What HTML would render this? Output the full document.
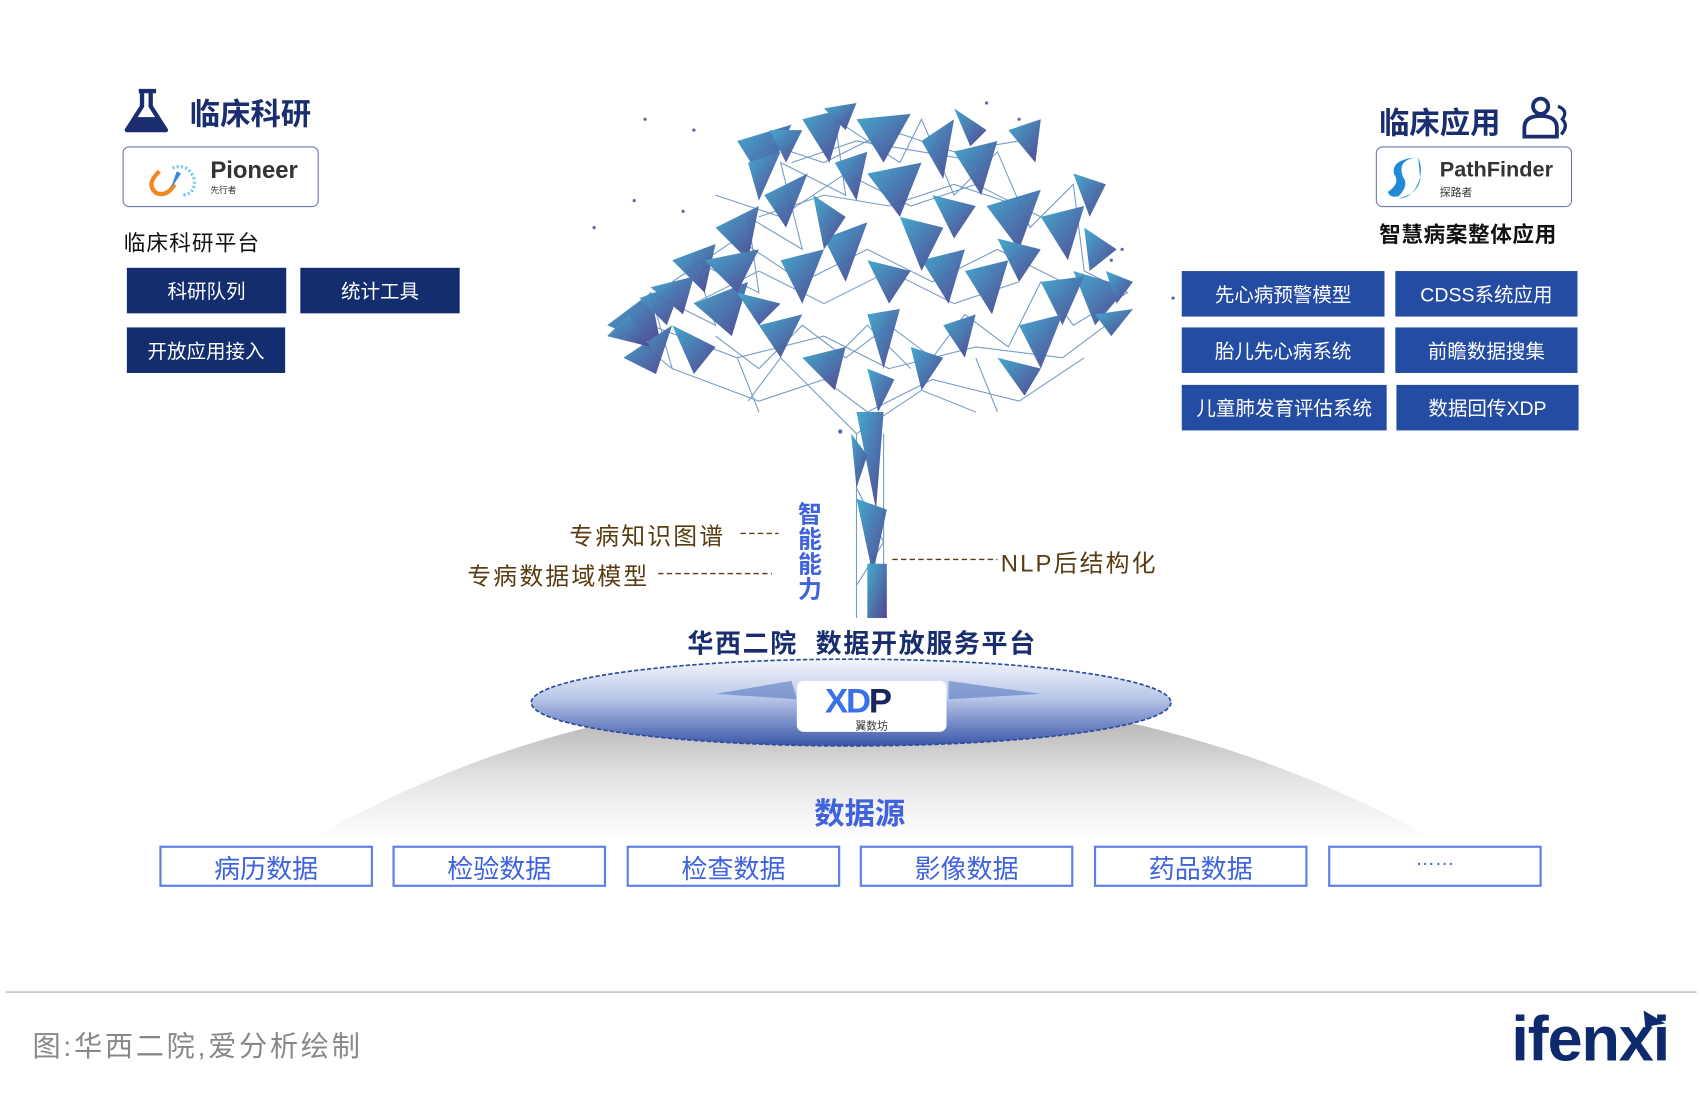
<!DOCTYPE html>
<html><head><meta charset="utf-8"><style>
html,body{margin:0;padding:0;background:#fff;width:1700px;height:1105px;overflow:hidden}
#w{position:absolute;left:0;top:0;width:1568px;height:1020px;transform:scale(1.08418);transform-origin:0 0;font-family:"Liberation Sans","Noto Sans CJK SC",sans-serif}
.a{position:absolute;white-space:nowrap}
.nb{position:absolute;background:#142d6e;color:#fff;font-size:18px;display:flex;align-items:center;justify-content:center}
.rb{position:absolute;background:#244ca3;color:#fff;font-size:18px;display:flex;align-items:center;justify-content:center}
.ds{position:absolute;top:780px;width:193px;height:34px;border:2px solid #5d7fe8;color:#3f63dc;font-size:24px;display:flex;align-items:center;justify-content:center}
.logo{position:absolute;border:1.5px solid #6a7aa8;border-radius:6px;background:#fff}
.br{color:#5a3c12;font-size:22px;letter-spacing:2px}
</style></head><body><div id="w">

<svg class="a" style="left:0;top:0" width="1568" height="1020">
<defs>
<linearGradient id="dome" x1="0" y1="0" x2="0" y2="1"><stop offset="0" stop-color="#a6a2a2"/><stop offset="0.6" stop-color="#e6e6e6"/><stop offset="1" stop-color="#fff"/></linearGradient>
<linearGradient id="disk" x1="0" y1="0" x2="0" y2="1"><stop offset="0" stop-color="#f4f6fb"/><stop offset="0.45" stop-color="#b8c6e8"/><stop offset="1" stop-color="#3a56a8"/></linearGradient>
<linearGradient id="tg" x1="0" y1="0" x2="1" y2="1"><stop offset="0" stop-color="#3ba6cc"/><stop offset="1" stop-color="#4b3d8c"/></linearGradient>
</defs>
<path d="M285,775 Q520,640 800,640 Q1080,640 1325,775 Z" fill="url(#dome)"/>
<ellipse cx="785" cy="648" rx="295" ry="40" fill="url(#disk)" stroke="#2a4a9c" stroke-width="1.5" stroke-dasharray="4,2"/>
<g stroke="#4a7ab0" stroke-width="1" fill="none" opacity="0.75">
<path d="M600,300 L680,330 L760,310 L820,340 L900,320 L980,330 L1020,300 M620,340 L700,370 L760,350 L800,380 L860,350 L940,370 L1000,330 M690,370 L720,330 L790,400 L850,360 L900,380 M640,280 L700,250 L760,280 L820,250 L880,280 L940,260 M700,200 L760,180 L820,190 L880,170 L940,190 M730,150 L790,130 L850,140 L910,150 M790,400 L790,570 M815,400 L815,570 M790,450 L815,500 L790,540"/>
<path d="M570,300 L620,340 L600,270 L660,300 L640,240 L700,270 L690,200 L740,230 L720,150 L780,180 L770,110 L830,150 L850,110 L880,180 L920,140 L950,210 L990,170 L1000,250 L1040,270 L990,300 L960,260 L930,320 L890,290 L860,330 L820,300 L780,330 L740,300 L700,340 L660,310"/>
<path d="M620,260 L680,220 L740,260 L800,230 L860,260 L920,230 L980,260 M660,180 L720,200 L780,160 L840,190 L900,170 L960,200 M700,130 L760,150 L820,120 L880,140 L940,130 M760,340 L800,300 L840,340 M680,330 L700,380 M900,330 L920,380"/>
</g>
<g fill="url(#tg)" opacity="0.95">
<polygon points="560,300 600,270 610,320"/><polygon points="575,330 620,300 605,345"/><polygon points="600,265 640,255 630,290"/>
<polygon points="620,240 660,225 650,270"/><polygon points="640,280 690,260 675,310"/><polygon points="660,210 700,190 690,240"/>
<polygon points="680,130 730,115 705,170"/><polygon points="705,180 745,160 725,210"/><polygon points="740,110 780,100 765,150"/>
<polygon points="790,110 840,105 815,150"/><polygon points="800,160 850,150 830,200"/><polygon points="850,130 880,110 870,165"/>
<polygon points="880,140 920,130 905,180"/><polygon points="910,190 960,175 940,230"/><polygon points="930,120 960,110 955,150"/>
<polygon points="960,200 1000,190 985,240"/><polygon points="990,250 1040,265 1010,300"/><polygon points="960,260 1000,255 980,300"/>
<polygon points="940,300 980,290 960,340"/><polygon points="890,250 930,240 915,290"/><polygon points="850,240 890,230 875,280"/>
<polygon points="830,200 870,210 850,250"/><polygon points="760,220 800,205 780,260"/><polygon points="720,240 760,230 740,280"/>
<polygon points="700,300 740,290 720,330"/><polygon points="650,240 700,230 680,270"/><polygon points="590,275 630,260 615,300"/>
<polygon points="990,160 1020,170 1005,200"/><polygon points="1010,290 1045,285 1025,310"/><polygon points="770,150 800,140 790,185"/>
<polygon points="870,300 900,290 890,330"/><polygon points="800,290 830,285 815,340"/><polygon points="790,380 815,380 808,470"/>
<polygon points="790,460 818,470 805,530"/><polygon points="800,520 818,520 818,570 800,570"/><polygon points="710,120 740,120 725,150"/>
<polygon points="690,150 720,140 700,185"/><polygon points="750,180 780,200 760,230"/><polygon points="860,180 900,190 880,220"/>
<polygon points="920,220 960,230 940,260"/><polygon points="1000,210 1030,230 1005,250"/><polygon points="580,290 560,310 600,320"/>
<polygon points="620,300 660,320 640,345"/><polygon points="740,330 780,320 770,360"/><polygon points="840,320 870,330 850,360"/>
<polygon points="920,330 960,340 945,365"/><polygon points="800,240 840,250 820,280"/><polygon points="680,270 720,280 700,300"/>
<polygon points="880,100 910,120 895,135"/><polygon points="760,100 790,95 780,120"/><polygon points="1020,250 1045,260 1030,280"/>
<polygon points="800,340 825,350 810,380"/><polygon points="785,400 800,420 790,450"/>
</g>
<g fill="#5a6aa8">
<circle cx="595" cy="110" r="1.5"/><circle cx="640" cy="120" r="1.5"/><circle cx="585" cy="185" r="1.5"/><circle cx="548" cy="210" r="1.5"/><circle cx="630" cy="195" r="1.5"/><circle cx="1035" cy="230" r="1.5"/><circle cx="1025" cy="240" r="1.5"/><circle cx="910" cy="95" r="1.5"/><circle cx="940" cy="110" r="1.5"/><circle cx="1082" cy="275" r="1.5"/><circle cx="775" cy="398" r="2"/>
</g>
<polygon points="660,640 730,628 735,645" fill="#5a7ac0" opacity="0.6"/><polygon points="875,628 960,640 875,645" fill="#5a7ac0" opacity="0.6"/>
<path d="M128,84 H144 M131,84 V98 L117,120 H153 L139,98 V84" stroke="#1a2d6e" stroke-width="4" fill="none" stroke-linejoin="round"/>
<path d="M123,108 H147 L153,120 H117 Z" fill="#1a2d6e"/>
<circle cx="1421" cy="98" r="7" stroke="#1a2d6e" stroke-width="3.5" fill="none"/>
<path d="M1406,126 V118 Q1406,107 1421,107 Q1436,107 1436,118 V126 Z" stroke="#1a2d6e" stroke-width="3.5" fill="none"/>
<path d="M1437,98 Q1447,102 1441,110 Q1447,116 1440,124" stroke="#1a2d6e" stroke-width="3" fill="none"/>
<line x1="5" y1="915" x2="1565" y2="915" stroke="#c8c8c8" stroke-width="1.5"/>
<g stroke="#5a3c12" stroke-width="1.3" stroke-dasharray="5,3">
<line x1="683" y1="492" x2="718" y2="492"/><line x1="607" y1="529" x2="712" y2="529"/><line x1="823" y1="516" x2="920" y2="516"/>
</g>
</svg>

<div class="a" style="left:175px;top:84px;font-size:28px;font-weight:bold;color:#1a2d6e">临床科研</div>
<div class="logo" style="left:113px;top:135px;width:179px;height:54px">
<svg width="60" height="50" style="position:absolute;left:15px;top:4px"><path d="M18,18 Q5,30 15,38 Q25,42 32,30" stroke="#f08a20" stroke-width="4" fill="none"/><path d="M30,15 Q45,10 50,25 Q52,38 40,40" stroke="#7ac8ee" stroke-width="3" stroke-dasharray="2,2" fill="none"/><path d="M28,35 L34,18 L38,20 Z" fill="#3a8ad8"/></svg>
<div class="a" style="left:80px;top:8px;font-size:22px;font-weight:bold;color:#333">Pioneer</div>
<div class="a" style="left:80px;top:34px;font-size:8px;color:#333">先行者</div></div>
<div class="a" style="left:114px;top:208px;font-size:20px;color:#111;letter-spacing:1px">临床科研平台</div>
<div class="nb" style="left:117px;top:247px;width:147px;height:42px">科研队列</div>
<div class="nb" style="left:277px;top:247px;width:147px;height:42px">统计工具</div>
<div class="nb" style="left:117px;top:302px;width:146px;height:42px">开放应用接入</div>

<div class="a" style="left:1272px;top:92px;font-size:28px;font-weight:bold;color:#1a2d6e">临床应用</div>
<div class="logo" style="left:1269px;top:135px;width:179px;height:54px">
<svg width="50" height="50" style="position:absolute;left:8px;top:3px"><path d="M30,6 Q10,8 16,24 Q22,32 12,42 Q4,44 2,38 Q14,30 8,22 Q4,8 30,6 Z M30,6 Q36,20 28,34 Q22,44 12,44 Q30,40 32,26 Z" fill="#1f8ad8"/></svg>
<div class="a" style="left:58px;top:10px;font-size:20px;font-weight:bold;color:#333">PathFinder</div>
<div class="a" style="left:58px;top:33px;font-size:10px;color:#333">探路者</div></div>
<div class="a" style="left:1272px;top:200px;font-size:20px;color:#111;font-weight:bold;letter-spacing:0.5px">智慧病案整体应用</div>
<div class="rb" style="left:1090px;top:250px;width:187px;height:42px">先心病预警模型</div>
<div class="rb" style="left:1287px;top:250px;width:168px;height:42px">CDSS系统应用</div>
<div class="rb" style="left:1090px;top:302px;width:187px;height:42px">胎儿先心病系统</div>
<div class="rb" style="left:1287px;top:302px;width:168px;height:42px">前瞻数据搜集</div>
<div class="rb" style="left:1090px;top:355px;width:189px;height:42px">儿童肺发育评估系统</div>
<div class="rb" style="left:1288px;top:355px;width:168px;height:42px">数据回传XDP</div>

<div class="a br" style="left:525px;top:477px">专病知识图谱</div>
<div class="a br" style="left:431px;top:514px">专病数据域模型</div>
<div class="a" style="left:736px;top:463px;width:24px;font-size:22px;line-height:23px;color:#3f63dc;font-weight:bold;white-space:normal">智能能力</div>
<div class="a br" style="left:923px;top:502px">NLP后结构化</div>
<div class="a" style="left:634px;top:574px;font-size:24px;font-weight:bold;color:#1a2d6e;letter-spacing:1.5px">华西二院&nbsp;&nbsp;数据开放服务平台</div>
<div class="a" style="left:735px;top:628px;width:138px;height:47px;background:#fff;border-radius:6px">
<div class="a" style="left:26px;top:0px;font-size:32px;font-weight:bold;color:#3a70e8;letter-spacing:-2px">XD<span style="color:#1a2560">P</span></div>
<div class="a" style="left:54px;top:33px;font-size:10px;color:#333">翼数坊</div></div>
<div class="a" style="left:751px;top:729px;font-size:28px;font-weight:bold;color:#3f63dc">数据源</div>
<div class="ds" style="left:147px">病历数据</div>
<div class="ds" style="left:362px">检验数据</div>
<div class="ds" style="left:578px">检查数据</div>
<div class="ds" style="left:793px">影像数据</div>
<div class="ds" style="left:1009px">药品数据</div>
<div class="ds" style="left:1225px;align-items:flex-start;font-size:18px">……</div>
<div class="a" style="left:30px;top:945px;font-size:26px;color:#888;letter-spacing:2.5px">图:华西二院,爱分析绘制</div>
<div class="a" style="left:1394px;top:925px;font-size:58px;font-weight:bold;color:#0f2a6c;letter-spacing:-1px">ifenxi</div>
<svg class="a" style="left:1512px;top:930px" width="28" height="24"><polygon points="4,2 24,14 12,16 6,22" fill="#0f2a6c"/></svg>
</div></body></html>
